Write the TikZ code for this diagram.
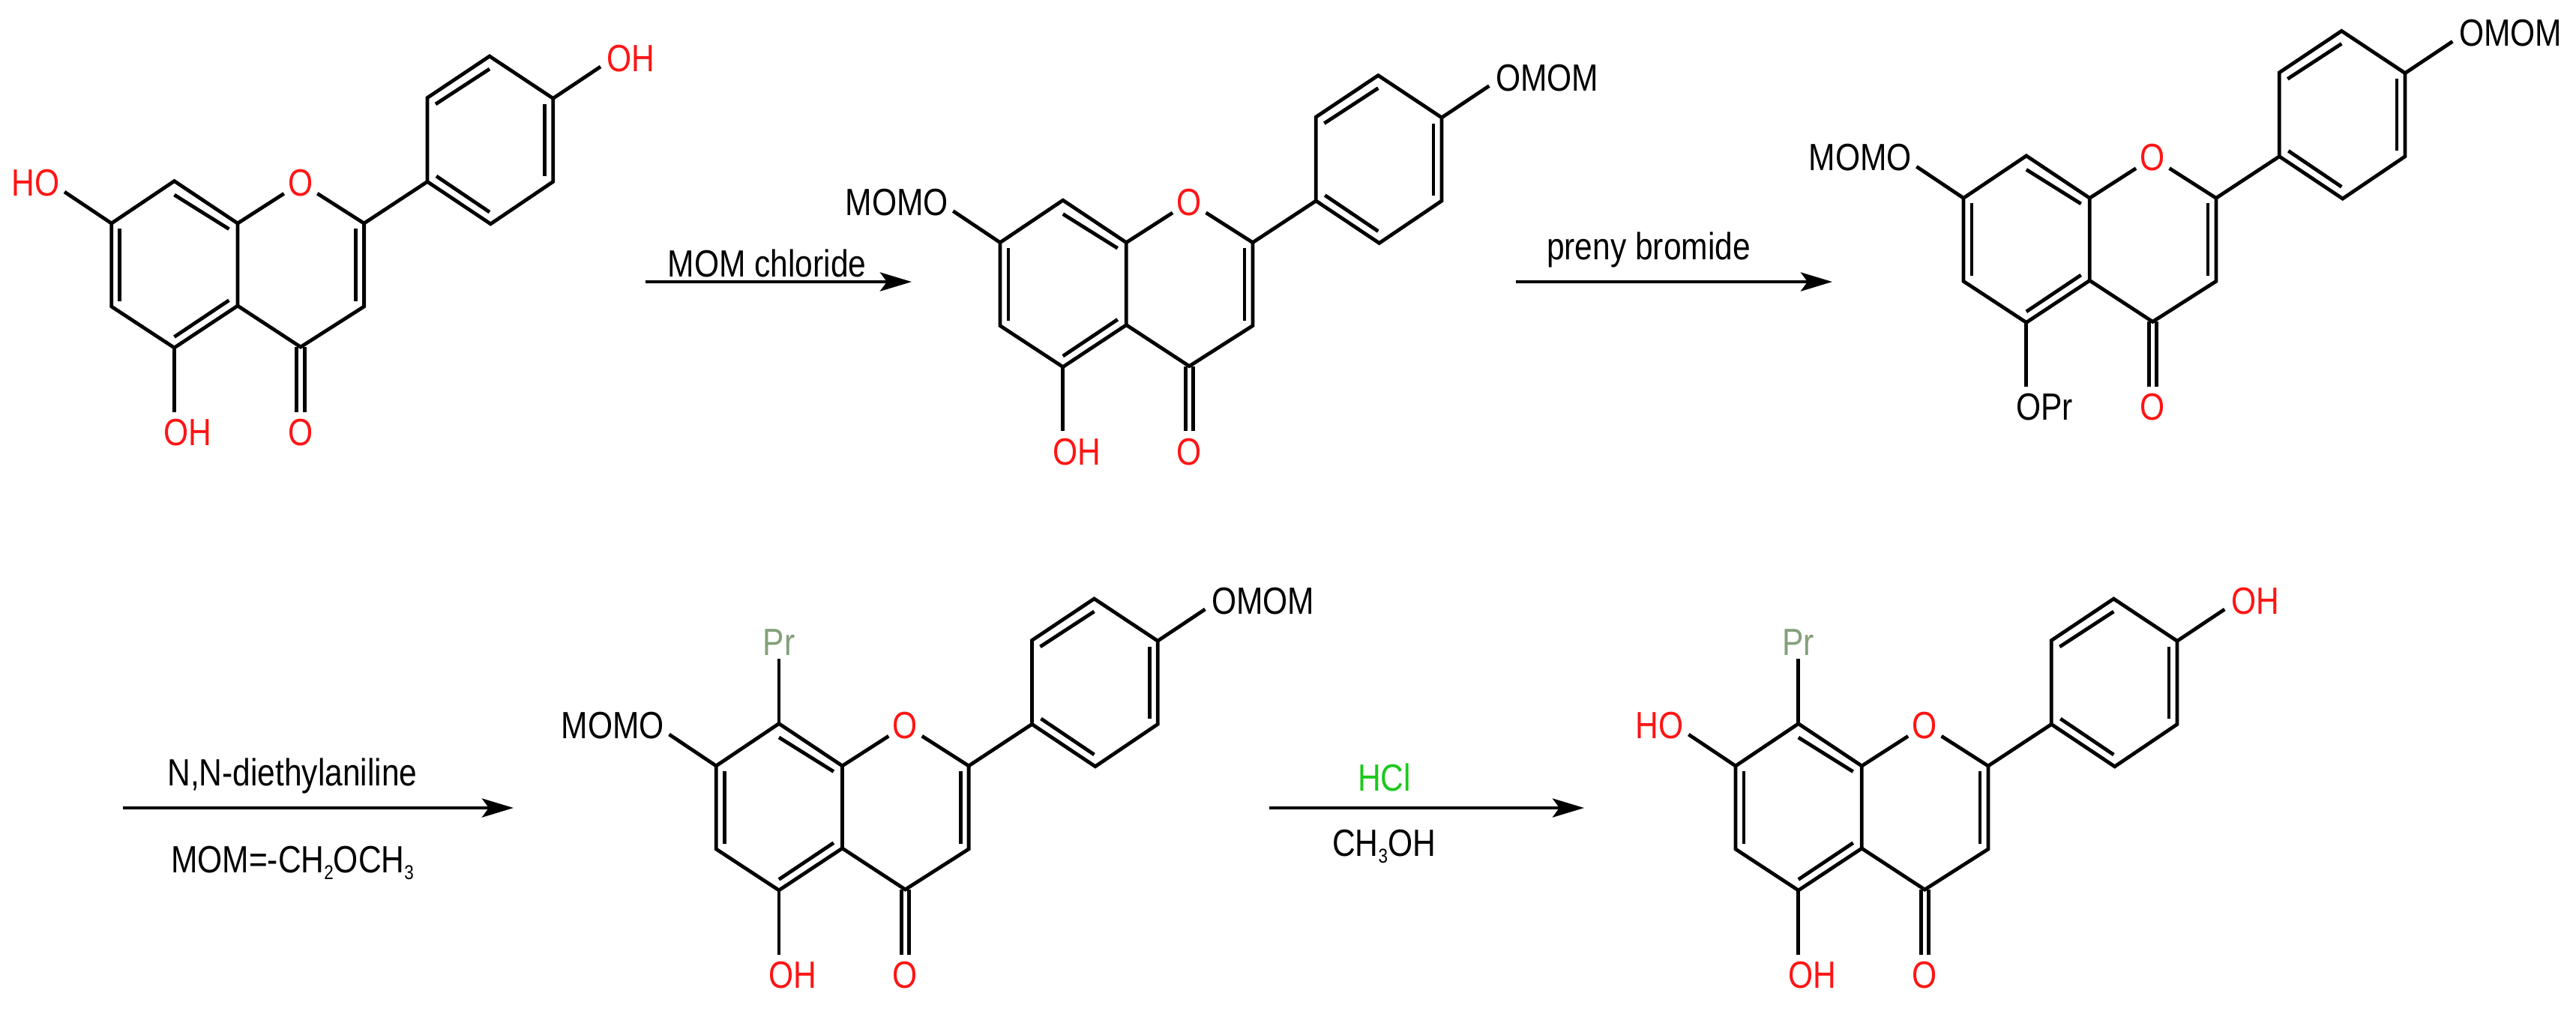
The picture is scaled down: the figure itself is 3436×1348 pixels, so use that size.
\documentclass[tikz,border=0pt]{standalone}
\usepackage{fontspec}
\setmainfont[FakeStretch=0.84]{Liberation Sans}
\usetikzlibrary{calc,arrows.meta}
\definecolor{atomred}{RGB}{255,20,20}
\definecolor{hclgreen}{RGB}{28,200,28}
\definecolor{prgrey}{RGB}{132,160,122}
\def\chemsub#1{\raisebox{-0.09cm}{\fontsize{7.6}{8}\selectfont #1}}
\tikzset{
	bond/.style={line width=0.048cm},
	rxn/.style={line width=0.048cm, -{Stealth[length=0.42cm,width=0.25cm,inset=0.09cm]}},
	lab/.style={font=\fontsize{14.4}{16}\selectfont, inner sep=0pt, text height=0.35cm, text depth=0pt},
	atom/.style={lab, inner sep=0.05cm, color=atomred},
	cond/.style={font=\fontsize{14.4}{16}\selectfont, inner sep=0pt, anchor=base},
}
% prefix, shift, colour and text at C7, at C4', at C5
\def\flavone#1(#2)[#3]#4[#5]#6[#7]#8{
	\begin{scope}[name prefix=#1-, shift={(#2)}]
		\coordinate (C7) at (148.7, 298);
		\coordinate (C8) at (232.5, 241.6);
		\coordinate (C8a) at (317, 298);
		\coordinate (C4a) at (317, 408);
		\coordinate (C5) at (232.5, 464);
		\coordinate (C6) at (148.7, 409);
		\coordinate (C2) at (485.6, 298);
		\coordinate (C3) at (485.6, 409);
		\coordinate (C4) at (401, 463);
		\coordinate (C1p) at (570, 242.4);
		\coordinate (C2p) at (570, 130.5);
		\coordinate (C3p) at (653, 75);
		\coordinate (C4p) at (737.7, 131.3);
		\coordinate (C5p) at (737.7, 242.4);
		\coordinate (C6p) at (654.4, 298.8);
		
		\node[atom] (O1) at (401, 244) {O};
		\node[lab, color=atomred] (CO) at (401, 577) {O};
		\node[lab, anchor=east, color=#3] (R7) at (80, 244) {#4};
		\node[lab, anchor=west, color=#5] (R4p) at (809, 78) {#6};
		\node[lab, anchor=west, color=#7] (R5) at (218, 577) {#8};
		
		\draw[bond] (C7) -- (C8) -- (C8a) -- (C4a) -- (C5) -- (C6) -- cycle;
		\draw[bond] (C8a) -- (O1) -- (C2) -- (C3) -- (C4) -- (C4a);
		\draw[bond] (C2) -- (C1p);
		\draw[bond] (C1p) -- (C2p) -- (C3p) -- (C4p) -- (C5p) -- (C6p) -- cycle;
		
		\foreach \a/\b/\p/\q in {C7/C6/{11,7}/{11,-7}, C8/C8a/{0,18.4}/{-11.6,7.6},
				C4a/C5/{-11.6,-7.3}/{0,-14.5}, C2/C3/{-11,7}/{-11,-7}, C1p/C6p/{12,-7.4}/{-1.4,-15.8},
				C2p/C3p/{11,8.5}/{0,17}, C4p/C5p/{-11,7.7}/{-11,-7.4}}
			\draw[bond] ($(\a)+(\p)$) -- ($(\b)+(\q)$);
		
		\draw[bond] ($(C4)+(-5.2,0)$) -- ($(CO.north)+(-5.2,-9)$);
		\draw[bond] ($(C4)+(5.2,0)$) -- ($(CO.north)+(5.2,-9)$);
		\draw[bond] (C7) -- ($(R7.east)+(6,12)$);
		\draw[bond] (C4p) -- ($(R4p.west)+(-8,11)$);
		\draw[bond] (C5) -- ($(C5 |- CO.north)+(0,-9)$);
	\end{scope}
}

\begin{document}
\begin{tikzpicture}[x=0.01cm, y=-0.01cm]
	\useasboundingbox (0, 0) rectangle (3436, 1348);
	
	%%%%% MOLECULES %%%%%
	\flavone{mA}(0,0)[atomred]{HO}[atomred]{OH}[atomred]{OH}
	\flavone{mB}(1185.3,25.6)[black]{MOMO}[black]{OMOM}[atomred]{OH}
	\flavone{mC}(2470.3,-33.7)[black]{MOMO}[black]{OMOM}[black]{OPr}
	\flavone{mD}(806.5,723.9)[black]{MOMO}[black]{OMOM}[atomred]{OH}
	\flavone{mE}(2166.3,724)[atomred]{HO}[atomred]{OH}[atomred]{OH}
	
	\node[lab, color=prgrey, inner sep=0.04cm] (prD) at ($(mD-C8)+(0,-108.5)$) {Pr};
	\draw[bond] (mD-C8) -- (prD);
	\node[lab, color=prgrey, inner sep=0.04cm] (prE) at ($(mE-C8)+(0,-108.5)$) {Pr};
	\draw[bond] (mE-C8) -- (prE);
	
	%%%%% ARROWS %%%%%
	\coordinate (arrAs) at (861, 376);
	\coordinate (arrAe) at (1216, 376);
	\coordinate (arrBs) at (2022, 376);
	\coordinate (arrBe) at (2444, 376);
	\coordinate (arrCs) at (164, 1078);
	\coordinate (arrCe) at (685, 1078);
	\coordinate (arrDs) at (1693, 1078);
	\coordinate (arrDe) at (2113, 1078);
	\foreach \s/\e in {arrAs/arrAe, arrBs/arrBe, arrCs/arrCe, arrDs/arrDe}
		\draw[rxn] (\s) -- (\e);
	
	\node[cond] (condA) at (1023, 369.6) {MOM chloride};
	\node[cond] (condB) at (2199, 346) {preny bromide};
	\node[cond] (condC) at (390, 1048.6) {N,N-diethylaniline};
	\node[cond] (condCb) at (390, 1164) {MOM=-CH\chemsub{2}OCH\chemsub{3}};
	\node[cond, color=hclgreen] (condD) at (1846.5, 1055) {HCl};
	\node[cond] (condDb) at (1846, 1142) {CH\chemsub{3}OH};
\end{tikzpicture}
\end{document}
